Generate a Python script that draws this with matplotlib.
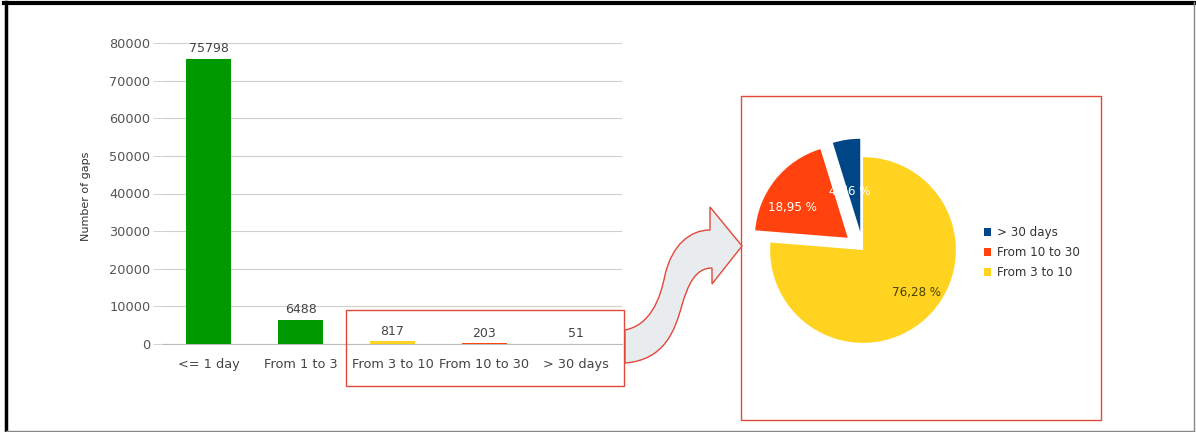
import matplotlib.pyplot as plt
from matplotlib.patches import Rectangle, PathPatch
from matplotlib.path import Path

plt.rcParams['font.family'] = 'DejaVu Sans'

# Gap durations: counts per bucket
categories = ['<= 1 day', 'From 1 to 3', 'From 3 to 10', 'From 10 to 30', '> 30 days']
counts = [75798, 6488, 817, 203, 51]
bar_colors = ['#009a00', '#009a00', '#ffd320', '#ff420e', '#004586']

# Long gaps only (pie)
pie_labels = ['> 30 days', 'From 10 to 30', 'From 3 to 10']
pie_counts = [51, 203, 817]
pie_colors = ['#004586', '#ff420e', '#ffd320']

W, H = 1196, 432
fig = plt.figure(figsize=(W / 100, H / 100), dpi=100)
fig.patch.set_facecolor('white')


def px_rect(x0, y0, x1, y1):
    # pixel box -> figure fraction [left, bottom, width, height]
    return [x0 / W, 1 - y1 / H, (x1 - x0) / W, (y1 - y0) / H]


# ---------------- bar chart ----------------
ax = fig.add_axes(px_rect(163, 43, 622, 344))
x = range(len(categories))
bars = ax.bar(x, counts, width=0.49, color=bar_colors, zorder=3)
for b, v in zip(bars, counts):
    ax.text(b.get_x() + b.get_width() / 2, v + 900, str(v),
            ha='center', va='bottom', fontsize=9, color='#444444')
ax.set_xlim(-0.5, len(categories) - 0.5)
ax.set_ylim(0, 80000)
ax.set_yticks(range(0, 80001, 10000))
ax.set_xticks(list(x))
ax.set_xticklabels(categories)
ax.tick_params(axis='both', labelsize=9.3, colors='#444444', length=7, width=0.6)
ax.tick_params(axis='x', length=0, pad=10)
ax.tick_params(axis='y', colors='#cccccc', labelcolor='#555555', pad=2)
ax.grid(axis='y', color='#cfcfcf', linewidth=0.8, zorder=0)
for side in ['top', 'left', 'right']:
    ax.spines[side].set_visible(False)
ax.spines['bottom'].set_color('#bbbbbb')
ax.set_ylabel('Number of gaps', fontsize=8, color='#333333')
ax.yaxis.set_label_coords(-0.157, 0.49)

# ---------------- pie chart ----------------
axp = fig.add_axes(px_rect(733, 120, 993, 380))
wedges, _, autotexts = axp.pie(
    pie_counts, colors=pie_colors, startangle=90, counterclock=True,
    explode=[0.2, 0.21, 0.0], autopct='%.2f %%', pctdistance=0.7,
    textprops=dict(fontsize=8.6))
axp.set_xlim(-1.4, 1.4)
axp.set_ylim(-1.4, 1.4)
axp.set_aspect('equal')
pct_pos = [(-0.14, 0.63), (-0.76, 0.46), (0.58, -0.46)]
pct_col = ['white', 'white', '#4a4000']
for t, p, c in zip(autotexts, pct_pos, pct_col):
    t.set_text(t.get_text().replace('.', ','))
    t.set_position(p)
    t.set_color(c)
axp.legend(wedges, pie_labels, loc='center left', bbox_to_anchor=(0.965, 0.49),
           frameon=False, fontsize=8.6, handlelength=0.6, handleheight=0.6,
           handletextpad=0.5, labelspacing=0.6, labelcolor='#333333',
           borderpad=0, borderaxespad=0)

# ---------------- overlay: frame, boxes, arrow ----------------
ov = fig.add_axes([0, 0, 1, 1], zorder=10)
ov.set_xlim(0, W)
ov.set_ylim(H, 0)
ov.axis('off')
ov.patch.set_alpha(0)

# outer frame
ov.plot([6, 6], [2, 431], color='black', lw=2.5)
ov.plot([4, 1194], [2.5, 2.5], color='black', lw=3)
ov.plot([6, 1194], [431, 431], color='#888888', lw=1)
ov.plot([1194, 1194], [2, 431], color='#888888', lw=1)

red = '#e2483a'
ov.add_patch(Rectangle((346, 310), 278, 76, fill=False, ec=red, lw=1.0))
ov.add_patch(Rectangle((741, 96), 360, 324, fill=False, ec=red, lw=1.0))

# S-shaped arrow from the small bars to the pie
verts = [
    (625, 330),
    (650, 325), (660, 300), (665, 275),
    (672, 245), (690, 230), (710, 230),
    (710, 207),
    (742, 246),
    (712, 284),
    (712, 268),
    (695, 268), (688, 285), (682, 305),
    (675, 330), (665, 360), (625, 363),
    (625, 330),
]
codes = ([Path.MOVETO] + [Path.CURVE4] * 6 + [Path.LINETO] * 4
         + [Path.CURVE4] * 6 + [Path.CLOSEPOLY])
ov.add_patch(PathPatch(Path(verts, codes), fc='#e9ecef', ec=red, lw=1.0))

fig.savefig('out.png', dpi=100, facecolor='white')
